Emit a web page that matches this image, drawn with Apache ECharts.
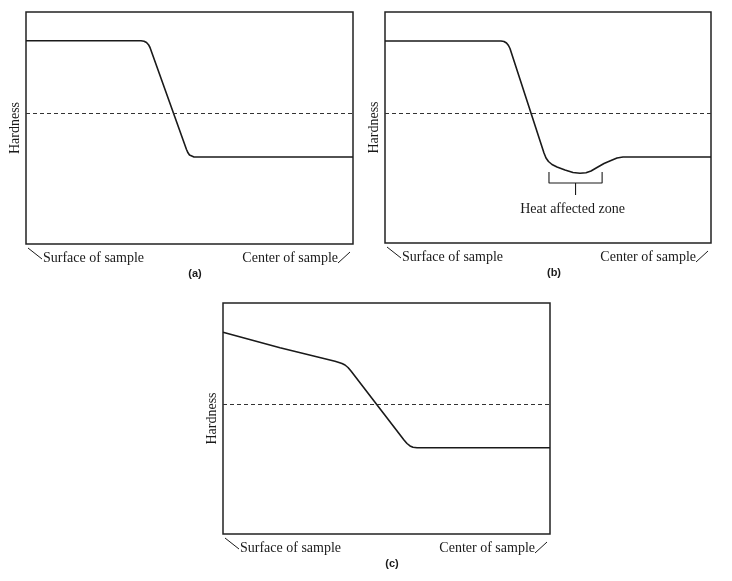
<!DOCTYPE html>
<html><head><meta charset="utf-8">
<script src="https://cdn.jsdelivr.net/npm/echarts@6/dist/echarts.min.js"></script>
<style>html,body{margin:0;padding:0;background:#fff}#c{width:732px;height:581px}</style>
</head><body><div id="c"></div>
<script>
// Panel (a): hardness profile, position 0 (surface) -> 100 (center)
const posA = [0, 35.17, 36.09, 36.85, 37.46, 37.92, 49.08, 49.54, 50.0, 50.61, 51.38, 100];
const hardA = [87.63, 87.63, 87.41, 86.85, 85.9, 84.7, 40.73, 39.31, 38.36, 37.76, 37.5, 37.5];
// Panel (b): with heat affected zone dip
const posB = [0, 35.58, 36.5, 37.27, 37.88, 38.34, 48.77, 49.39, 50.15, 51.23, 52.76, 55.21, 57.67, 59.82, 61.66, 63.19, 65.03, 67.18, 69.33, 71.17, 73.01, 100];
const hardB = [87.45, 87.45, 87.23, 86.58, 85.5, 84.2, 38.96, 36.8, 35.28, 33.98, 32.9, 31.6, 30.52, 30.17, 30.39, 31.17, 32.68, 34.42, 35.71, 36.8, 37.23, 37.23];
// Panel (c): sloping surface region
const posC = [0, 17.43, 34.25, 35.47, 36.39, 37.31, 38.23, 39.14, 55.35, 56.27, 57.19, 58.1, 59.33, 100];
const hardC = [87.32, 80.6, 74.76, 74.24, 73.81, 73.16, 72.08, 70.56, 40.69, 39.18, 38.1, 37.53, 37.32, 37.32];
// Reference (dashed) hardness levels
const refLevels = [56.34, 56.15, 56.15];
// Heat affected zone extent in panel (b)
const hazZone = [50.3, 66.6];
const hazBracketY = [30.7, 26.0, 20.8];
const panelLabels = ['(a)', '(b)', '(c)'];
const axisName = 'Hardness';
const leftLabel = 'Surface of sample';
const rightLabel = 'Center of sample';
const hazLabel = 'Heat affected zone';

const grids = [
  {left: 26, top: 12, width: 327, height: 232},
  {left: 385, top: 12, width: 326, height: 231},
  {left: 223, top: 303, width: 327, height: 231}
];
const serif = "'Liberation Serif', 'DejaVu Serif', serif";
const ink = '#1a1a1a';

const chart = echarts.init(document.getElementById('c'));
const xAxes = [], yAxes = [], series = [], graphics = [], titles = [];
const curves = [[posA, hardA], [posB, hardB], [posC, hardC]];

grids.forEach((g, i) => {
  xAxes.push({gridIndex: i, type: 'value', min: 0, max: 100, show: false});
  yAxes.push({gridIndex: i, type: 'value', min: 0, max: 100,
    axisLine: {show: false}, axisTick: {show: false}, axisLabel: {show: false}, splitLine: {show: false},
    name: axisName, nameLocation: 'middle', nameGap: 4, nameRotate: 90,
    nameTextStyle: {fontFamily: serif, fontSize: 14, color: ink}});
  const [xs, ys] = curves[i];
  series.push({
    type: 'line', xAxisIndex: i, yAxisIndex: i, data: xs.map((x, k) => [x, ys[k]]),
    showSymbol: false, smooth: false,
    lineStyle: {color: ink, width: 1.6}, silent: true,
    markLine: {silent: true, symbol: 'none', label: {show: false},
      lineStyle: {color: '#333', type: [4, 3], width: 1.2},
      data: [{yAxis: refLevels[i]}]}
  });
  const L = g.left, R = g.left + g.width, B = g.top + g.height;
  graphics.push(
    {type: 'text', left: L + 17, top: B + 7, style: {text: leftLabel, font: '14px ' + serif, fill: ink}},
    {type: 'text', right: 732 - R + 15, top: B + 7, style: {text: rightLabel, font: '14px ' + serif, fill: ink}},
    {type: 'line', shape: {x1: L + 2, y1: B + 4, x2: L + 16, y2: B + 15}, style: {stroke: ink, lineWidth: 1}},
    {type: 'line', shape: {x1: R - 15, y1: B + 19, x2: R - 3, y2: B + 8}, style: {stroke: ink, lineWidth: 1}}
  );
  titles.push({text: panelLabels[i], left: L + 164, top: B + 19, textAlign: 'center',
    textStyle: {fontFamily: "'Liberation Sans', Arial, sans-serif", fontSize: 11, fontWeight: 'bold', color: ink}});
});

// Heat affected zone bracket (panel b)
series.push({
  type: 'line', xAxisIndex: 1, yAxisIndex: 1, showSymbol: false, silent: true,
  lineStyle: {color: ink, width: 1.1},
  data: [[hazZone[0], hazBracketY[0]], [hazZone[0], hazBracketY[1]], [hazZone[1], hazBracketY[1]], [hazZone[1], hazBracketY[0]]]
});
const hazMid = (hazZone[0] + hazZone[1]) / 2;
series.push({
  type: 'line', xAxisIndex: 1, yAxisIndex: 1, showSymbol: false, silent: true,
  lineStyle: {color: ink, width: 1.1},
  data: [[hazMid, hazBracketY[1]], [hazMid, hazBracketY[2]]]
});

chart.setOption({
  animation: false,
  backgroundColor: '#fff',
  title: titles,
  grid: grids.map(g => Object.assign({show: true, borderColor: '#222', borderWidth: 1.5, backgroundColor: 'transparent'}, g)),
  xAxis: xAxes, yAxis: yAxes, series: series, graphic: graphics
});

const p = chart.convertToPixel({xAxisIndex: 1, yAxisIndex: 1}, [hazMid, hazBracketY[2]]);
graphics.push({type: 'text', x: p[0] - 3, y: p[1] + 7,
  style: {text: hazLabel, font: '14px ' + serif, fill: ink, textAlign: 'center', textVerticalAlign: 'top'}});
chart.setOption({graphic: graphics});
</script></body></html>
